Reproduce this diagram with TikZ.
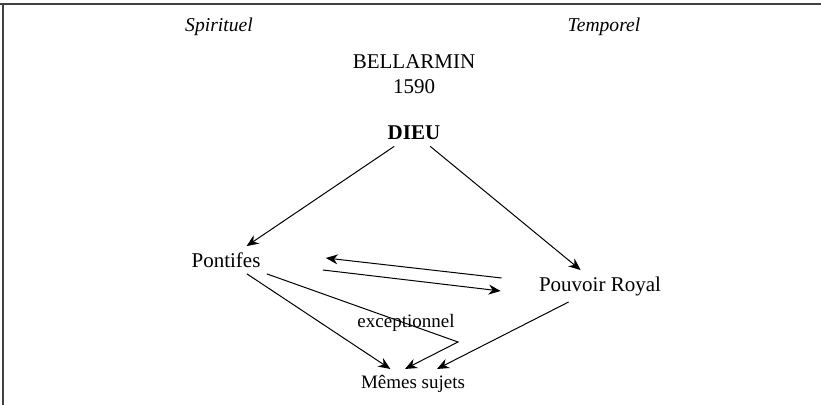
\documentclass[tikz,border=0pt]{standalone}
\usepackage{fontspec}
\setmainfont{Liberation Serif}
\usetikzlibrary{arrows.meta}
\usetikzlibrary{positioning}
\tikzset{>={Stealth[length=6pt,width=5pt]}}

\begin{document}
\begin{tikzpicture}[
	x=0.5pt, y=-0.5pt,
	heading/.style = {
		font=\fontsize{9.8}{12}\selectfont\itshape
	},
	term/.style = {
		align=center,
		inner sep=3pt,
		font=\fontsize{10.5}{12.5}\selectfont
	},
	small/.style = {
		inner sep=3pt,
		font=\fontsize{9.5}{11}\selectfont
	},
	link/.style = {
		->, line width=0.5pt
	},
	frame/.style = {
		draw=black!75, line width=0.9pt
	}
]
	\useasboundingbox (0, 0) rectangle (821, 405);
	% Frame
	\draw[frame] (0, 4) -- (821, 4);
	\draw[frame] (3, 4) -- (3, 405);
	% Headings
	\node[heading] (spirituel) at (219, 27) {Spirituel};
	\node[heading] (temporel) at (604, 27) {Temporel};
	\node[term] (bellarmin) at (414, 74) {BELLARMIN\\1590};
	% Powers
	\node[term, font=\fontsize{10.5}{12.5}\selectfont\bfseries] (dieu) at (414, 133) {DIEU};
	\node[term] (pontifes) at (226, 260) {Pontifes};
	\node[term] (pouvoir) at (600, 286) {Pouvoir Royal};
	\node[small] (memes) at (413, 384) {Mêmes sujets};
	\node[small] (exception) at (406, 323) {exceptionnel};
	\coordinate (bend) at (458, 342);
	% Connections
	\draw[link] (dieu) -- (pontifes);
	\draw[link] (dieu) -- (pouvoir);
	\draw[link] ([xshift=-15.5pt, yshift=4pt]pouvoir.west)
		-- ([xshift=29.5pt, yshift=1pt]pontifes.east);
	\draw[link] ([xshift=28pt, yshift=-5pt]pontifes.east)
		-- ([xshift=-16pt, yshift=-2.5pt]pouvoir.west);
	\draw[link] (pontifes) -- (memes);
	\draw[link] (pontifes.south east) -- (bend)
		-- ([xshift=-4pt]memes.north);
	\draw[link] (pouvoir) -- ([xshift=12pt]memes.north);
\end{tikzpicture}
\end{document}
